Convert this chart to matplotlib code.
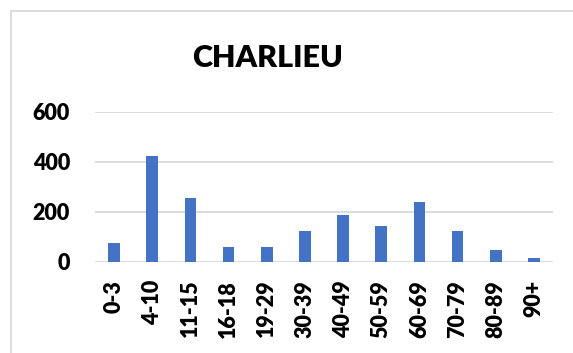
import matplotlib.pyplot as plt
from matplotlib.patches import Rectangle

# Population by age group
age_groups = ['0-3', '4-10', '11-15', '16-18', '19-29', '30-39',
              '40-49', '50-59', '60-69', '70-79', '80-89', '90+']
counts = [75, 424, 255, 60, 60, 124, 186, 144, 240, 122, 47, 15]
y_ticks = [0, 200, 400, 600]

plt.rcParams['font.family'] = ['Lato', 'DejaVu Sans']

fig = plt.figure(figsize=(5.73, 3.53), dpi=100)
ax = fig.add_axes([95 / 573, 1 - 261.7 / 353, (553 - 95) / 573, (261.7 - 112) / 353])

ax.bar(range(len(age_groups)), counts, width=0.31, color='#4472C4', zorder=3)

ax.set_xlim(-0.5, len(age_groups) - 0.5)
ax.set_ylim(0, 600)
ax.set_yticks(y_ticks)
ax.set_yticklabels([str(v) for v in y_ticks], fontsize=15.5, fontweight='heavy')
ax.set_xticks(range(len(age_groups)))
ax.set_xticklabels(age_groups, rotation=90, fontsize=15.5, fontweight='heavy',
                   va='top', ha='center')
ax.tick_params(axis='y', length=0, pad=18)
ax.tick_params(axis='x', length=0, pad=13)
ax.grid(axis='y', color='#d9d9d9', linewidth=1.3, zorder=0)
for s in ax.spines.values():
    s.set_visible(False)

# light frame around the chart area
fig.patches.append(Rectangle((11 / 573, -0.1), 1.2, 1 - 11 / 353 + 0.1,
                             transform=fig.transFigure, fill=False,
                             edgecolor='#d9d9d9', linewidth=1.3))

fig.text(268 / 573, 1 - 58 / 353, 'CHARLIEU', ha='center', va='center',
         fontsize=22, fontweight='heavy')

fig.savefig('out.png', dpi=100)
